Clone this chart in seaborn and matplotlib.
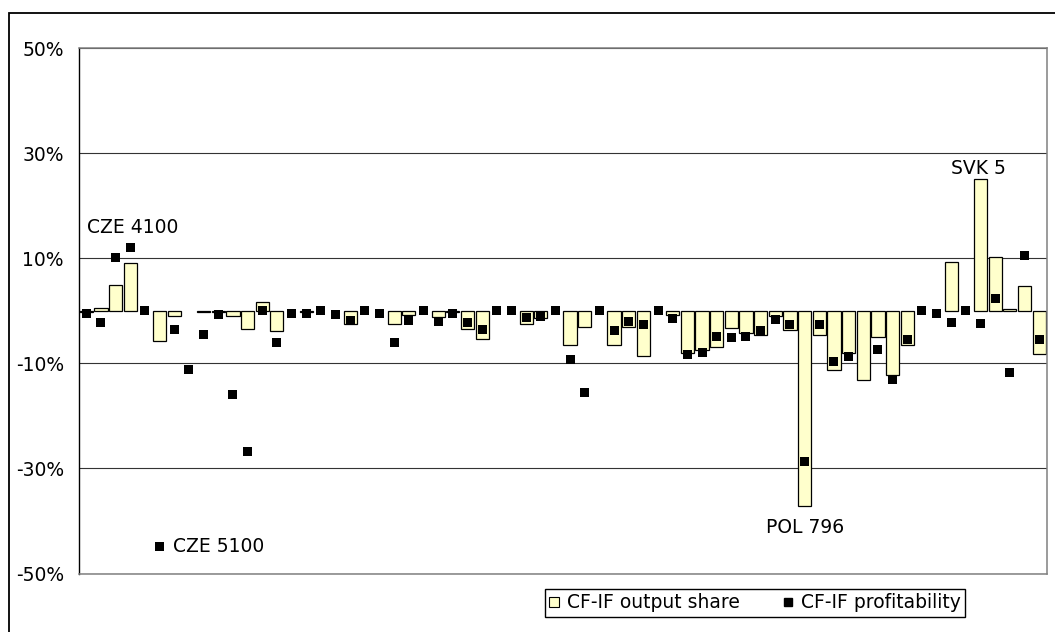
import numpy as np
import pandas as pd
import matplotlib
matplotlib.use("Agg")
import matplotlib.pyplot as plt
from matplotlib.lines import Line2D
from matplotlib.patches import Rectangle
import seaborn as sns

nan = np.nan
# CF-IF output share (bars), percent
share = [-0.2, 0.5, 4.9, 9.2, nan, -5.7, -0.9, nan, -0.2, -0.2,
         -0.9, -3.5, 1.6, -3.8, nan, -0.2, nan, nan, -2.4, nan,
         nan, -2.4, -0.8, nan, -1.2, -0.2, -3.5, -5.3, nan, nan,
         -2.4, -1.4, nan, -6.5, -3.0, nan, -6.5, -3.0, -8.5, nan,
         -0.8, -8.0, -7.5, -6.8, -3.3, -4.2, -4.6, -1.0, -3.7, -37.2,
         -4.5, -11.3, -8.0, -13.2, -4.9, -12.2, -6.5, nan, nan, 9.3,
         nan, 25.2, 10.3, 0.4, 4.7, -8.3]
# CF-IF profitability (markers), percent
profit = [-0.5, -2.3, 10.1, 12.0, 0.0, -44.8, -3.5, -11.1, -4.4, -0.7,
          -15.9, -26.7, 0.0, -6.1, -0.4, -0.4, 0.0, -0.6, -1.9, 0.0,
          -0.4, -6.0, -1.9, 0.0, -2.1, -0.4, -2.2, -3.5, 0.0, 0.0,
          -1.3, -1.1, 0.0, -9.2, -15.6, 0.0, -3.8, -2.1, -2.5, 0.0,
          -1.4, -8.3, -7.9, -4.8, -5.1, -4.8, -3.8, -1.6, -2.5, -28.7,
          -2.5, -9.6, -8.6, nan, -7.3, -13.1, -5.4, 0.0, -0.5, -2.2,
          0.0, -2.4, 2.3, -11.7, 10.5, -5.4]
ytick_values = [50, 30, 10, -10, -30, -50]
ytick_labels = ["50%", "30%", "10%", "-10%", "-30%", "-50%"]
series_names = ["CF-IF output share", "CF-IF profitability"]
annotations = [("CZE 4100", 0.05, 15.8, "left"),
               ("CZE 5100", 5.9, -44.8, "left"),
               ("SVK 5", 60.85, 27.2, "center"),
               ("POL 796", 49.0, -41.3, "center")]

idx = list(range(len(share)))
df = pd.DataFrame({"idx": idx, "share": share, "profit": profit})

sns.set_style("white")
plt.rcParams["font.family"] = ["DejaVu Sans"]
plt.rcParams["text.color"] = "black"
plt.rcParams["ytick.color"] = "black"
plt.rcParams["ytick.labelcolor"] = "black"
FS = 13.5

fig = plt.figure(figsize=(10.55, 6.32), dpi=100)
ax = fig.add_axes([79 / 1055, 1 - 573.5 / 632, (1046.5 - 79) / 1055, (573.5 - 48.3) / 632])

bar_color = "#FFFFCC"
sns.barplot(data=df, x="idx", y="share", order=idx, color=bar_color,
            saturation=1, edgecolor="black", linewidth=0.9, width=0.9,
            errorbar=None, ax=ax, zorder=2)
sns.scatterplot(data=df, x="idx", y="profit", marker="s", s=42, color="black",
                edgecolor="none", ax=ax, zorder=3, legend=False)

ax.set_xlim(-0.5, len(share) - 0.5)
ax.set_ylim(-50, 50)
ax.set_xticks([])
ax.set_yticks(ytick_values)
ax.set_yticklabels(ytick_labels, fontsize=FS, color="black")
ax.set_xlabel("")
ax.set_ylabel("")
ax.tick_params(axis="y", direction="out", length=4.3, width=1.0, color="black",
               labelcolor="black", pad=6.5)
ax.yaxis.grid(True, color="#333333", linewidth=0.8)
ax.set_axisbelow(True)
for side in ["top", "right", "bottom"]:
    ax.spines[side].set_color("#808080")
    ax.spines[side].set_linewidth(1.1)
ax.spines["left"].set_color("black")
ax.spines["left"].set_linewidth(1.0)

for txt, x, y, ha in annotations:
    ax.text(x, y, txt, fontsize=FS, ha=ha, va="center", color="black")

handles = [Line2D([], [], linestyle="none", marker="s", markersize=6.5,
                  markerfacecolor=bar_color, markeredgecolor="black", markeredgewidth=0.8),
           Line2D([], [], linestyle="none", marker="s", markersize=5.5,
                  markerfacecolor="black", markeredgecolor="black")]
leg = fig.legend(handles, series_names, loc="center",
                 bbox_to_anchor=((541 + 969) / 2 / 1055, 1 - 603 / 632),
                 ncol=2, fontsize=FS, frameon=True, fancybox=False, shadow=False,
                 borderpad=0.25, handlelength=0.5, handletextpad=0.45,
                 columnspacing=2.3, borderaxespad=0)
for t in leg.get_texts():
    t.set_color("black")
leg.get_frame().set_edgecolor("black")
leg.get_frame().set_linewidth(1.0)
leg.get_frame().set_facecolor("white")
leg.get_frame().set_alpha(1)

# outer chart border
fig.patches.append(Rectangle((9 / 1055, -0.2), 2.0, 0.2 + 1 - 13.3 / 632,
                             transform=fig.transFigure, fill=False,
                             edgecolor="black", linewidth=1.3, clip_on=False))

fig.savefig("out.png", dpi=100)
